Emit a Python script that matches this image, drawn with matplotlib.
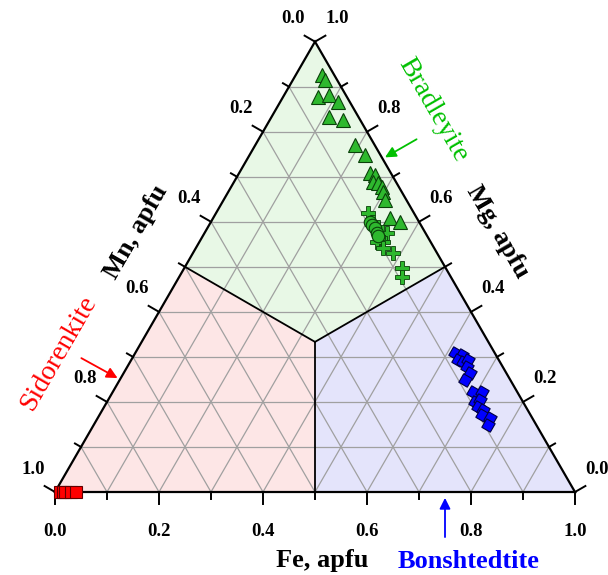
import numpy as np
import matplotlib
matplotlib.use('Agg')
import matplotlib.pyplot as plt
from matplotlib.patches import Polygon

# data: Fe and Mg (apfu fractions), Mn = 1 - Fe - Mg
brad_tri_fe = [0.050, 0.062, 0.067, 0.086, 0.111, 0.110, 0.141, 0.191, 0.222, 0.252,
               0.263, 0.268, 0.278, 0.290, 0.298, 0.311, 0.340, 0.363]
brad_tri_mg = [0.926, 0.915, 0.877, 0.882, 0.866, 0.833, 0.826, 0.771, 0.748, 0.708,
               0.704, 0.688, 0.686, 0.677, 0.666, 0.648, 0.608, 0.600]
brad_circ_fe = [0.305, 0.313, 0.322, 0.332, 0.338]
brad_circ_mg = [0.600, 0.593, 0.586, 0.575, 0.568]
brad_plus_fe = [0.292, 0.312, 0.340, 0.351, 0.343, 0.353, 0.342, 0.360, 0.384, 0.419, 0.429]
brad_plus_mg = [0.620, 0.600, 0.577, 0.575, 0.564, 0.555, 0.555, 0.542, 0.531, 0.497, 0.477]
bons_fe = [0.615, 0.631, 0.629, 0.640, 0.648, 0.653, 0.666, 0.664, 0.693, 0.710, 0.708,
           0.715, 0.719, 0.732, 0.736, 0.755, 0.758]
bons_mg = [0.309, 0.304, 0.293, 0.289, 0.293, 0.278, 0.264, 0.249, 0.222, 0.222, 0.200,
           0.204, 0.189, 0.182, 0.171, 0.164, 0.149]
sido_fe = [0.010, 0.015, 0.020, 0.030, 0.040]
sido_mg = [0.0, 0.0, 0.0, 0.0, 0.0]

tick_vals = np.round(np.arange(0, 1.01, 0.1), 1)

H = np.sqrt(3) / 2


def tern(fe, mg):
    fe = np.asarray(fe, float)
    mg = np.asarray(mg, float)
    return fe + mg / 2, mg * H


fig = plt.figure(figsize=(6.08, 5.75), dpi=100)
ax = fig.add_axes([0, 0, 1, 1])
ax.set_xlim(-55 / 520, 553 / 520)
ax.set_ylim(-83 / 520, 492 / 520)
ax.axis('off')

serif = ['Liberation Serif', 'DejaVu Serif']

# vertices (Fe, Mg)
L = tern(0, 0); R = tern(1, 0); T = tern(0, 1)
C = tern(1/3, 1/3)
mB = tern(0.5, 0); mR = tern(0.5, 0.5); mL = tern(0, 0.5)

# coloured fields
ax.add_patch(Polygon([C, mL, T, mR], closed=True, fc='#e8f8e6', ec='none', zorder=0))
ax.add_patch(Polygon([C, mB, L, mL], closed=True, fc='#fde6e6', ec='none', zorder=0))
ax.add_patch(Polygon([C, mR, R, mB], closed=True, fc='#e4e4fb', ec='none', zorder=0))

# grid
for v in tick_vals[1:-1]:
    a = tern([0, 1 - v], [v, v])          # const Mg
    b = tern([v, v], [0, 1 - v])          # const Fe
    c = tern([0, 1 - v], [1 - v, 0])      # const Mn
    for xy in (a, b, c):
        ax.plot(xy[0], xy[1], color='#a0a0a0', lw=0.9, zorder=1)

# field boundaries
for m in (mB, mR, mL):
    ax.plot([C[0], m[0]], [C[1], m[1]], color='black', lw=1.3, zorder=2)

# outline
ax.plot([L[0], R[0], T[0], L[0]], [L[1], R[1], T[1], L[1]], color='black', lw=1.6,
        zorder=5, solid_joinstyle='miter')

# ticks and labels
maj, mnr = 12 / 520, 7 / 520
d_bot = np.array([0, -1])
d_right = np.array([np.cos(np.pi / 6), np.sin(np.pi / 6)])
d_left = np.array([-np.cos(np.pi / 6), np.sin(np.pi / 6)])
for i, v in enumerate(tick_vals):
    ln = maj if i % 2 == 0 else mnr
    # Fe (bottom)
    p = np.array(tern(v, 0))
    q = p + d_bot * ln
    ax.plot([p[0], q[0]], [p[1], q[1]], color='black', lw=1.4, zorder=5)
    # Mg (right)
    p2 = np.array(tern(1 - v, v))
    q2 = p2 + d_right * ln
    ax.plot([p2[0], q2[0]], [p2[1], q2[1]], color='black', lw=1.4, zorder=5)
    # Mn (left)
    p3 = np.array(tern(0, 1 - v))
    q3 = p3 + d_left * ln
    ax.plot([p3[0], q3[0]], [p3[1], q3[1]], color='black', lw=1.4, zorder=5)
    if i % 2 == 0:
        kw = dict(family=serif, fontsize=13.5, fontweight='bold', ha='center', va='center')
        ax.text(p[0], p[1] - 39 / 520, f'{v:.1f}', **kw)
        ax.text(p2[0] + 22 / 520, p2[1] + 23 / 520, f'{v:.1f}', **kw)
        ax.text(p3[0] - 22 / 520, p3[1] + 23 / 520, f'{v:.1f}', **kw)

# axis titles
tkw = dict(family=serif, fontsize=19, fontweight='bold', ha='center', va='center')
ax.text(0.513, -0.131, 'Fe, apfu', **tkw)
ax.text(0.156, 0.50, 'Mn, apfu', rotation=60, **tkw)
ax.text(0.852, 0.50, 'Mg, apfu', rotation=-60, **tkw)

# data
x, y = tern(brad_tri_fe, brad_tri_mg)
ax.plot(x, y, '^', ms=10.5, mfc='#2eb82e', mec='#0a400a', mew=0.8, ls='none', zorder=6)
x, y = tern(brad_plus_fe, brad_plus_mg)
ax.plot(x, y, 'P', ms=10, mfc='#2eb82e', mec='#0a400a', mew=0.6, ls='none', zorder=6)
x, y = tern(brad_circ_fe, brad_circ_mg)
ax.plot(x, y, 'o', ms=9, mfc='#2eb82e', mec='#0a400a', mew=0.8, ls='none', zorder=7)
x, y = tern(bons_fe, bons_mg)
ax.plot(x, y, marker=(4, 0, 15), ms=10, mfc='#0000ff', mec='#000040', mew=0.8, ls='none', zorder=6)
x, y = tern(sido_fe, sido_mg)
ax.plot(x, y, 's', ms=8, mfc='#ff0000', mec='#600000', mew=0.8, ls='none', zorder=6)

# mineral names with arrows
green = '#00c000'
ax.text(0.727, 0.735, 'Bradleyite', color=green, family=serif, fontsize=20,
        rotation=-60, ha='center', va='center')
ax.annotate('', xy=tern(0.26, 0.74), xytext=(0.700, 0.681),
            arrowprops=dict(arrowstyle='-|>', color=green, lw=1.3, mutation_scale=16))
ax.text(0.006, 0.266, 'Sidorenkite', color='#ff0000', family=serif, fontsize=20,
        rotation=60, ha='center', va='center')
ax.annotate('', xy=tern(0, 0.25), xytext=(0.046, 0.260),
            arrowprops=dict(arrowstyle='-|>', color='#ff0000', lw=1.3, mutation_scale=16))
ax.text(0.796, -0.133, 'Bonshtedtite', color='#0000ff', family=serif, fontsize=19,
        fontweight='bold', ha='center', va='center')
ax.annotate('', xy=(0.75, -0.006), xytext=(0.75, -0.092),
            arrowprops=dict(arrowstyle='-|>', color='#0000ff', lw=1.3, mutation_scale=16))

fig.savefig('out.png', dpi=100)
